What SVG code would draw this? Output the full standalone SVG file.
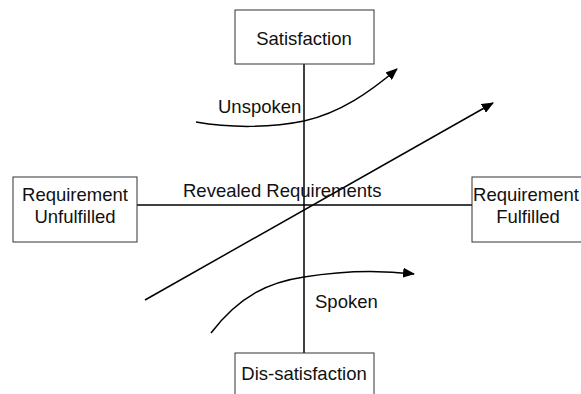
<svg xmlns="http://www.w3.org/2000/svg" width="581" height="394" viewBox="0 0 581 394">
<style>
.box{fill:#fff;stroke:#333;stroke-width:1}
.t{font-family:"Liberation Sans",Arial,sans-serif;font-size:18.5px;fill:#111}
.m{text-anchor:middle}
.ln{fill:none;stroke:#000;stroke-width:1.5}
</style>
<defs>
<marker id="ah" markerUnits="userSpaceOnUse" markerWidth="12" markerHeight="10" refX="11" refY="5" orient="auto" viewBox="0 0 12 10">
<path d="M0,0 L12,5 L0,10 z" fill="#000"/>
</marker>
</defs>
<rect width="581" height="394" fill="#fff"/>
<g id="connectors">
<line class="ln" x1="304" y1="64" x2="304" y2="353"/>
<line class="ln" x1="137" y1="205" x2="472" y2="205"/>
<line class="ln" x1="145" y1="300" x2="493" y2="103" marker-end="url(#ah)"/>
<path class="ln" d="M196,122 C230,128 270,128 304,121 C340,113 370,92 397,69" marker-end="url(#ah)"/>
<path class="ln" d="M211,333 C240,295 270,282 304,277 C340,271 380,270 414,274" marker-end="url(#ah)"/>
</g>
<g id="satisfaction">
<rect class="box" x="235" y="10" width="139" height="54"/>
<text class="t m" x="304" y="45">Satisfaction</text>
</g>
<g id="unfulfilled">
<rect class="box" x="13" y="177" width="124" height="65"/>
<text class="t m" x="75" y="201">Requirement</text>
<text class="t m" x="75" y="223">Unfulfilled</text>
</g>
<g id="fulfilled">
<rect class="box" x="472" y="177" width="128" height="65"/>
<text class="t m" x="526" y="201">Requirement</text>
<text class="t m" x="528" y="223">Fulfilled</text>
</g>
<g id="dissatisfaction">
<rect class="box" x="235" y="353" width="139" height="60"/>
<text class="t m" x="304" y="380">Dis-satisfaction</text>
</g>
<g id="labels">
<text class="t" x="218" y="113">Unspoken</text>
<text class="t" x="315" y="308">Spoken</text>
<text class="t" x="183" y="197">Revealed Requirements</text>
</g>
</svg>
